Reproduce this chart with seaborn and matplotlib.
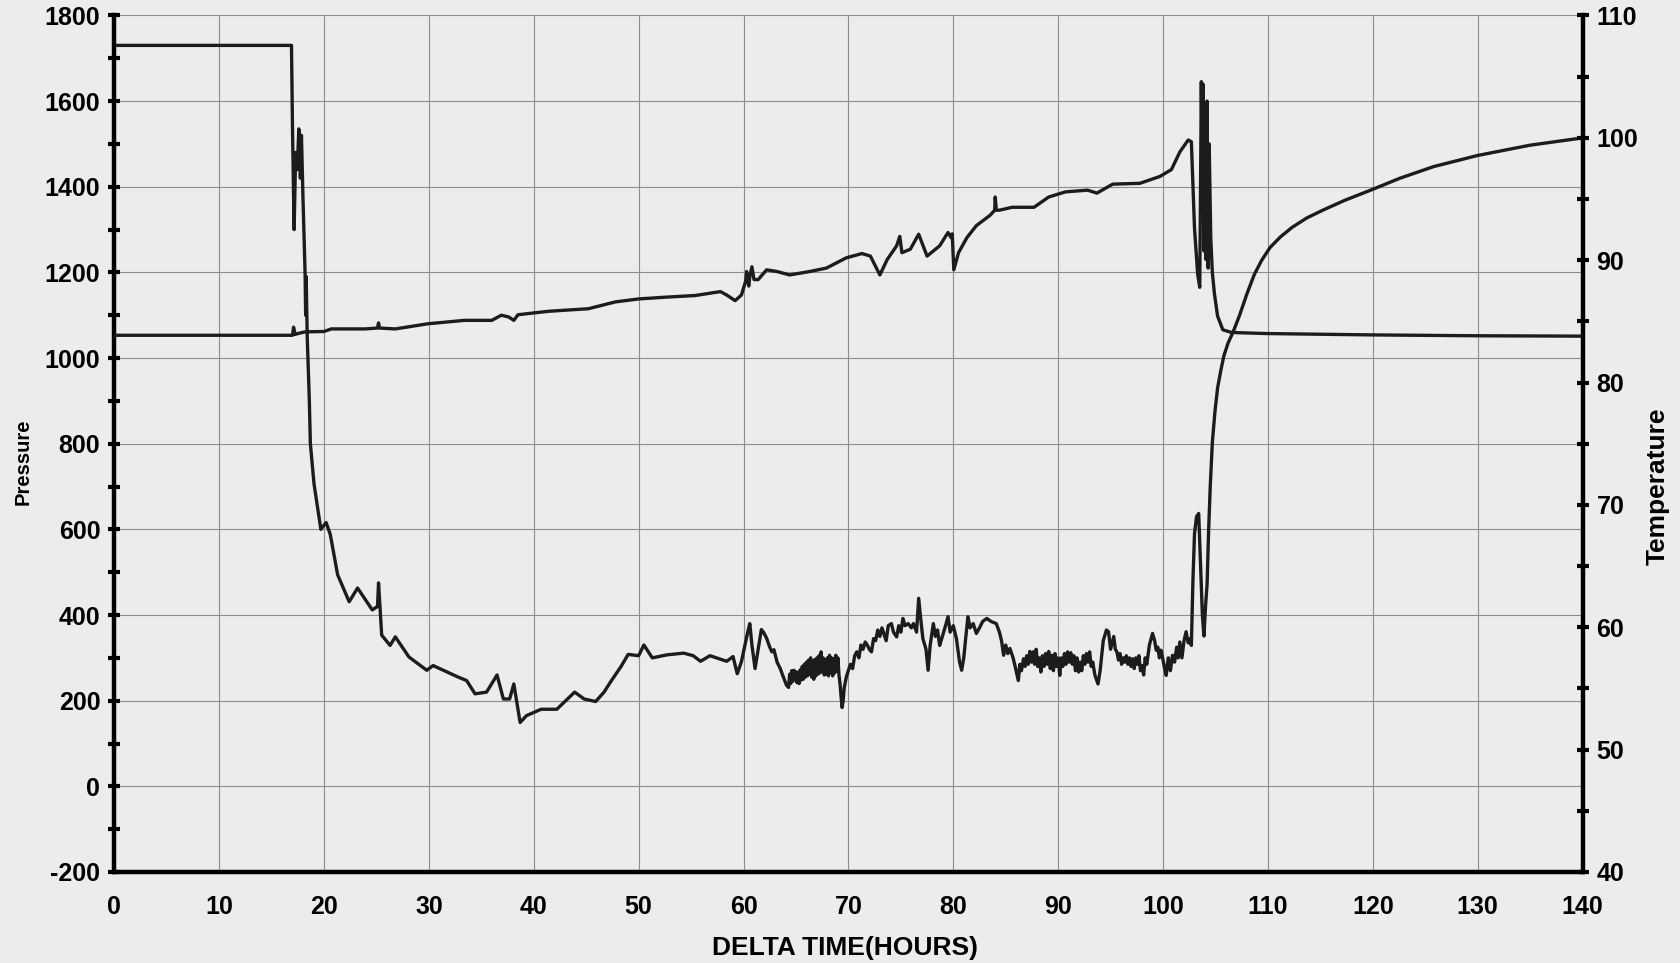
import numpy as np
import pandas as pd
import seaborn as sns
import matplotlib.pyplot as plt
from matplotlib.ticker import MultipleLocator

# pressure trace (hours, psi)
p_time = [0, 16.9, 17.0, 17.15, 17.3, 17.45, 17.6, 17.75, 17.85, 18.0, 18.2, 18.25, 18.3, 18.4,
          18.6, 18.7, 19.05, 19.7, 20.2, 20.6, 21.3, 22.4, 23.2, 24.6, 25.1, 25.2, 25.5, 26.3,
          26.8, 28.1, 29.8, 30.4, 32.8, 33.6, 34.4, 35.5, 36.5, 37.1, 37.7, 38.1, 38.7, 39.3,
          40.7, 42.2, 43.9, 44.8, 45.9, 46.7, 47.3, 48.3, 49.0, 50.0, 50.5, 51.3, 52.7, 54.3,
          55.2, 55.9, 56.8, 58.4, 59.0, 59.4, 59.8,
          60.2, 60.4, 60.6, 60.8, 61.1, 61.4, 61.7, 61.9, 62.2, 62.5, 62.7, 62.9, 63.2, 63.5,
          63.8, 64.1, 64.3, 64.4, 64.5, 64.6, 64.7, 64.8, 64.9, 65.0, 65.1, 65.2, 65.3, 65.4,
          65.5, 65.6, 65.7, 65.8, 65.9, 66.0, 66.1, 66.2, 66.3, 66.4, 66.5, 66.6, 66.7, 66.8,
          66.9, 67.0, 67.1, 67.2, 67.3, 67.4, 67.5, 67.6, 67.7, 67.8, 67.9, 68.0, 68.1, 68.2,
          68.3, 68.4, 68.5, 68.6, 68.7, 68.8, 68.9, 69.0, 69.1, 69.2, 69.3, 69.4, 69.5, 69.6,
          69.8, 70.0, 70.2, 70.4, 70.6, 70.8, 71.0, 71.2, 71.4, 71.6, 71.8, 72.0, 72.2, 72.4,
          72.6, 72.8, 73.0, 73.2, 73.4, 73.6, 73.8, 74.1, 74.3, 74.6, 74.8, 75.0, 75.2, 75.4,
          75.7, 76.0, 76.2, 76.5, 76.7, 76.9, 77.1, 77.4, 77.6, 77.8, 78.1, 78.3, 78.5, 78.7,
          78.9, 79.2, 79.5, 79.7, 80.0, 80.3, 80.6, 80.8, 81.0, 81.2, 81.4, 81.6, 81.9, 82.2,
          82.5, 82.8, 83.2, 83.6, 84.1, 84.4, 84.6, 84.8, 85.0, 85.2, 85.4, 85.7, 85.9, 86.2,
          86.35, 86.5, 86.7, 86.85, 87.0, 87.15, 87.3, 87.45, 87.6, 87.75, 87.9, 88.05, 88.2,
          88.35, 88.5, 88.65, 88.8, 88.95, 89.1, 89.25, 89.4, 89.55, 89.7, 89.85, 90.0, 90.15,
          90.3, 90.45, 90.6, 90.75, 90.9, 91.05, 91.2, 91.35, 91.5, 91.65, 91.8, 91.95, 92.1,
          92.25, 92.4, 92.55, 92.7, 92.85, 93.0, 93.15, 93.3, 93.5, 93.8, 94.0, 94.3, 94.6,
          94.8, 95.0, 95.3, 95.45, 95.6, 95.75, 95.9, 96.05, 96.2, 96.35, 96.5, 96.65, 96.8,
          96.95, 97.1, 97.25, 97.4, 97.55, 97.7, 97.85, 98.0, 98.15, 98.3, 98.45, 98.7, 99.0,
          99.2, 99.35, 99.5, 99.65, 99.8, 100.0, 100.15, 100.3, 100.5, 100.7, 100.9, 101.1,
          101.3, 101.45, 101.6, 101.8, 102.0, 102.2, 102.4, 102.6, 102.7,
          102.85, 103.0, 103.2, 103.4, 103.6, 103.75, 103.9, 104.05, 104.2, 104.35, 104.5,
          104.7, 104.95, 105.2, 105.5, 105.8, 106.2, 106.7, 107.3, 108.0, 108.7, 109.4, 110.2,
          111.2, 112.3, 113.7, 115.3, 117.3, 120.0, 122.6, 125.8, 130.0, 135.0, 140.0]
p_vals = [1730, 1730, 1530, 1300, 1480, 1440, 1535, 1420, 1520, 1370, 1195, 1100, 1190, 1050,
          902, 800, 706, 600, 616, 588, 494, 431, 463, 412, 420, 475, 353, 329,
          349, 302, 271, 282, 255, 247, 216, 220, 260, 204, 204, 239, 149, 165,
          180, 180, 220, 204, 198, 220, 243, 279, 308, 305, 330, 300, 307, 311,
          305, 292, 305, 292, 303, 263, 291,
          337, 360, 380, 330, 275, 320, 366, 360, 346, 325, 314, 319, 290, 275,
          255, 236, 231, 262, 240, 270, 245, 271, 250, 268, 242, 265, 240, 272,
          248, 280, 250, 285, 255, 290, 258, 295, 262, 300, 255, 292, 250, 296,
          258, 300, 262, 305, 265, 314, 268, 300, 260, 295, 262, 300, 258, 306,
          265, 300, 258, 298, 265, 306, 270, 300, 260, 240, 210, 184, 200, 230,
          255, 271, 285, 275, 305, 314, 300, 330, 320, 337, 330, 320, 314, 345,
          340, 365, 350, 370, 355, 340, 375, 380, 360, 349, 375, 360, 392, 375,
          380, 370, 380, 360, 439, 390, 345, 320, 271, 330, 380, 350, 365, 329,
          345, 370, 396, 360, 375, 345, 290, 271, 300, 350, 396, 370, 380, 357,
          370, 385, 392, 385, 380, 360, 340, 306, 330, 310, 322, 300, 280, 247,
          285, 270, 298, 280, 305, 285, 315, 290, 314, 285, 320, 280, 300,
          267, 305, 280, 310, 285, 315, 275, 306, 270, 310, 280, 300, 259,
          300, 280, 310, 285, 314, 290, 312, 285, 305, 270, 300, 267, 290,
          270, 305, 285, 310, 290, 314, 280, 290, 260, 239, 270, 340, 365,
          361, 320, 350, 320, 314, 295, 310, 285, 300, 290, 305, 285, 300,
          280, 298, 275, 300, 285, 305, 270, 282, 260, 300, 285, 330, 357,
          340, 318, 325, 300, 318, 295, 275, 259, 300, 270, 306, 290,
          325, 300, 337, 300, 340, 361, 335, 345, 329,
          480, 590, 630, 637, 500, 400, 351, 420, 472, 600, 700,
          803, 875, 930, 970, 1005, 1035, 1062, 1100, 1150, 1195, 1228, 1258,
          1283, 1305, 1327, 1346, 1368, 1394, 1420, 1447, 1473, 1497, 1514]

# temperature trace (hours, degF)
t_time = [0, 17.0, 17.1, 17.25, 17.5, 18.2, 20.0, 20.7, 23.9, 25.1, 25.2, 25.3, 26.8, 29.9,
          33.4, 36.0, 36.9, 37.6, 38.1, 38.5, 41.4, 45.2, 47.8, 50.0, 52.5, 55.4, 57.8, 58.4,
          59.2, 59.8, 60.2, 60.3, 60.5, 60.6, 60.8, 61.0, 61.4, 62.2, 63.2, 64.4, 66.3, 67.9,
          69.8, 71.3, 72.1, 73.0, 73.7, 74.6, 74.9, 75.1, 75.9, 76.7, 77.5, 78.7, 79.5, 79.8,
          79.9, 80.05, 80.5, 81.3, 82.2, 83.5, 83.95, 84.0, 84.1, 84.4, 85.6, 87.7, 89.1, 90.7,
          92.8, 93.7, 95.2, 97.8, 99.7, 100.8, 101.6, 102.4, 102.7, 103.0, 103.3, 103.5, 103.65,
          103.75, 103.8, 103.9, 104.0, 104.1, 104.2, 104.3, 104.4, 104.55, 104.7, 104.9, 105.2,
          105.7, 106.5, 107.2, 110.0, 120.0, 130.0, 140.0]
t_vals = [83.86, 83.86, 84.52, 83.93, 84.0, 84.14, 84.17, 84.38, 84.38, 84.45, 84.87, 84.45, 84.38, 84.8,
          85.08, 85.08, 85.5, 85.36, 85.08, 85.54, 85.82, 86.03, 86.59, 86.83, 86.97, 87.11, 87.43, 87.15,
          86.69, 87.15, 88.27, 89.07, 87.88, 88.65, 89.46, 88.41, 88.41, 89.21, 89.07, 88.79, 89.07, 89.35,
          90.19, 90.54, 90.33, 88.79, 90.05, 91.17, 91.94, 90.61, 90.89, 92.12, 90.33, 91.17, 92.26, 91.84,
          92.15, 89.21, 90.61, 91.84, 92.82, 93.66, 94.08, 95.16, 94.08, 94.08, 94.32, 94.32, 95.16, 95.58,
          95.72, 95.48, 96.21, 96.28, 96.84, 97.4, 98.84, 99.82, 99.68, 92.61, 88.86, 87.78, 104.58,
          96.0, 104.4, 90.75, 101.6, 90.05, 103.0, 89.35, 99.5, 91.8, 89.0, 87.25, 85.43,
          84.31, 84.1, 84.07, 84.0, 83.89, 83.82, 83.79]

x_ticks = list(range(0, 141, 10))
p_ticks = list(range(-200, 1801, 200))
t_ticks = list(range(40, 111, 10))

pressure = pd.DataFrame({'hours': p_time, 'psi': p_vals})
temperature = pd.DataFrame({'hours': t_time, 'degF': t_vals})

sns.set_style("white")
plt.rcParams['font.family'] = ['Liberation Sans', 'DejaVu Sans']
plt.rcParams['font.weight'] = 'bold'
plt.rcParams['axes.unicode_minus'] = False

paper = '#ececec'
ink = '#1c1c1c'

fig = plt.figure(figsize=(16.8, 9.63), dpi=100, facecolor=paper)
ax = fig.add_axes([0.068, 0.0945, 0.874, 0.8895], facecolor=paper)

sns.lineplot(data=pressure, x='hours', y='psi', ax=ax, color=ink, linewidth=2.4,
             estimator=None, sort=False)

ax.set_xlim(0, 140)
ax.set_ylim(-200, 1800)
ax.set_xticks(x_ticks)
ax.set_yticks(p_ticks)
ax.xaxis.set_minor_locator(MultipleLocator(5))
ax.yaxis.set_minor_locator(MultipleLocator(100))
ax.grid(True, which='major', color='#8e8e8e', linewidth=0.8)
ax.set_axisbelow(True)

for s in ['top', 'right']:
    ax.spines[s].set_visible(False)
for s in ['left', 'bottom']:
    ax.spines[s].set_linewidth(3.2)
    ax.spines[s].set_color('black')

ax.tick_params(axis='x', which='both', direction='inout', length=11, width=3, pad=11,
               labelsize=18, colors='black')
ax.tick_params(axis='y', which='both', direction='inout', length=8, width=3, pad=6,
               labelsize=18, colors='black')

ax.set_xlabel('DELTA TIME(HOURS)', fontsize=19, fontweight='bold', color='black',
              va='center')
ax.xaxis.set_label_coords(0.498, -0.0887)
ax.set_ylabel('Pressure', fontsize=14.5, fontweight='bold', color='black', va='center')
ax.yaxis.set_label_coords(-0.0623, 0.479)

ax2 = ax.twinx()
sns.lineplot(data=temperature, x='hours', y='degF', ax=ax2, color=ink, linewidth=2.4,
             estimator=None, sort=False)
ax2.set_ylim(40, 110)
ax2.set_yticks(t_ticks)
ax2.yaxis.set_minor_locator(MultipleLocator(5))
for s in ['top', 'left', 'bottom']:
    ax2.spines[s].set_visible(False)
ax2.spines['right'].set_linewidth(3.2)
ax2.spines['right'].set_color('black')
ax2.tick_params(axis='y', which='both', direction='inout', length=8, width=3, pad=6,
                labelsize=18, colors='black')
ax2.set_ylabel('Temperature', fontsize=19, fontweight='bold', color='black', va='center')
ax2.yaxis.set_label_coords(1.051, 0.45)
ax2.set_xlim(0, 140)

plt.savefig('out.png', dpi=100, facecolor=paper)
plt.close()
